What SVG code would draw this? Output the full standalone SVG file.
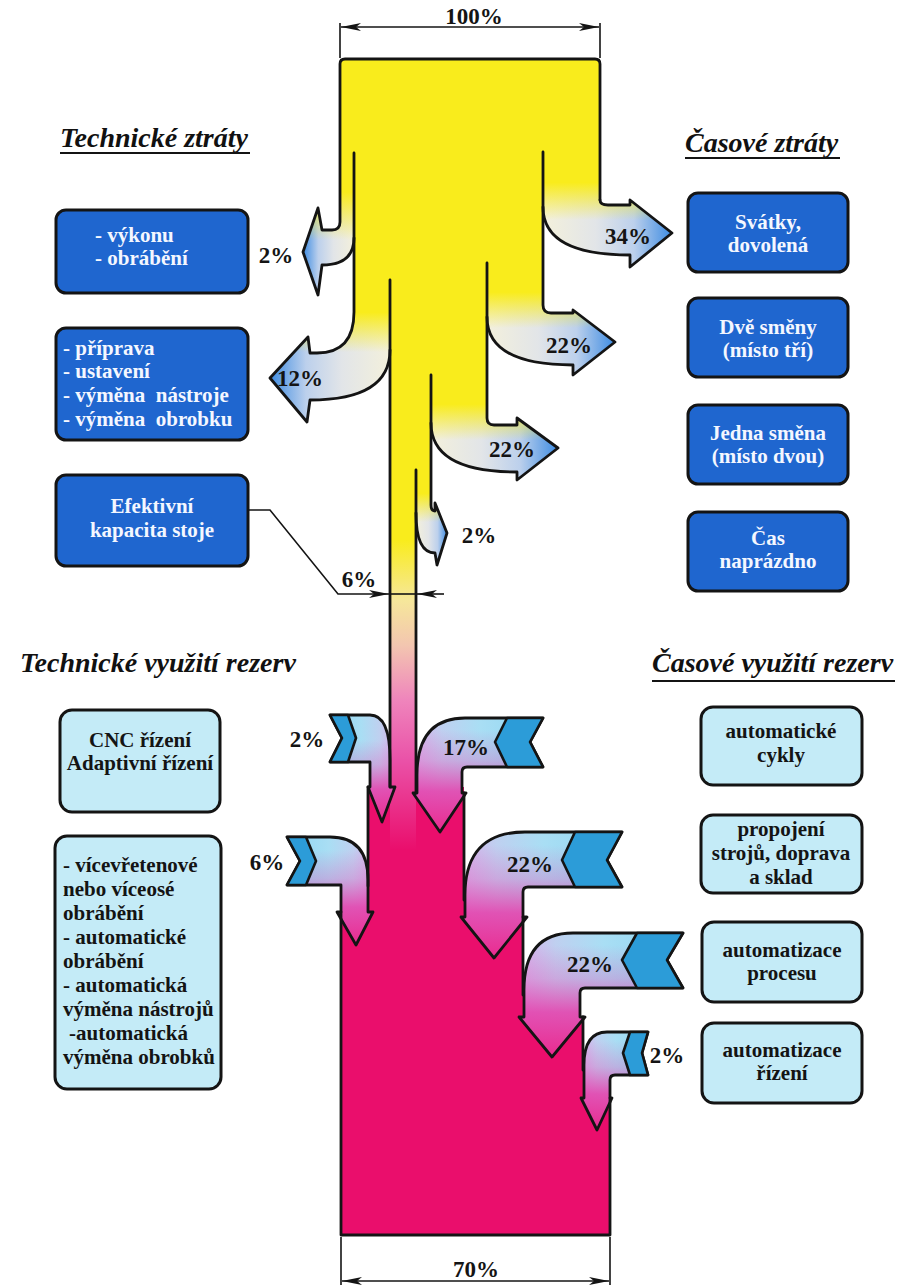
<svg xmlns="http://www.w3.org/2000/svg" width="910" height="1285" viewBox="0 0 910 1285">
<style>
  .ln{fill:none;stroke:#141414;stroke-width:2.8;stroke-linejoin:round;stroke-linecap:round}
  .thin{fill:none;stroke:#141414;stroke-width:1.6}
  .pct{font-family:"Liberation Serif","Times New Roman",serif;font-weight:bold;font-size:23px;fill:#141414;text-anchor:middle}
  .ttl{font-family:"Liberation Serif","Times New Roman",serif;font-weight:bold;font-style:italic;font-size:28px;fill:#111}
  .bx{font-family:"Liberation Serif","Times New Roman",serif;font-weight:bold;font-size:21px}
  .c{text-anchor:middle}
  .dk rect{fill:#1F66CF;stroke:#141414;stroke-width:3}
  .dk text{fill:#F4F7FF}
  .lt rect{fill:#C4EBF7;stroke:#141414;stroke-width:3}
  .lt text{fill:#141414}
  .band{fill:#2C9CD8;stroke:#141414;stroke-width:2.6;stroke-linejoin:round}
  .edge{fill:none;stroke:#141414;stroke-width:2.8;stroke-linejoin:round}
</style>
<defs>
  <marker id="ah" viewBox="0 0 20 8" refX="20" refY="4" markerWidth="20" markerHeight="8" markerUnits="userSpaceOnUse" orient="auto-start-reverse">
    <path d="M0,0 L20,4 L0,8 L5,4 Z" fill="#141414"/>
  </marker>

  <!-- main stream: yellow turning pink -->
  <linearGradient id="gTrunk" gradientUnits="userSpaceOnUse" x1="0" y1="59" x2="0" y2="850">
    <stop offset="0" stop-color="#F9EC1C"/>
    <stop offset="0.608" stop-color="#F9EC1C"/>
    <stop offset="0.684" stop-color="#F6E79A"/>
    <stop offset="0.741" stop-color="#F3C6B0"/>
    <stop offset="0.81" stop-color="#EF85BC"/>
    <stop offset="0.886" stop-color="#EA52A8"/>
    <stop offset="1" stop-color="#EA0E6C"/>
  </linearGradient>

  <!-- losses: cream to blue (horizontal) with yellow fading out (vertical) -->
  <linearGradient id="outStops">
    <stop offset="0" stop-color="#F3F0DC"/>
    <stop offset="0.4" stop-color="#E2E5E8"/>
    <stop offset="0.7" stop-color="#BCD0EC"/>
    <stop offset="1" stop-color="#3E8CE2"/>
  </linearGradient>
  <linearGradient id="yelStops">
    <stop offset="0" stop-color="#F9EC1C" stop-opacity="1"/>
    <stop offset="0.45" stop-color="#F9EC1C" stop-opacity="1"/>
    <stop offset="1" stop-color="#F9EC1C" stop-opacity="0"/>
  </linearGradient>
  <linearGradient id="gAh" href="#outStops" gradientUnits="userSpaceOnUse" x1="354" y1="0" x2="303" y2="0"/>
  <linearGradient id="gAv" href="#yelStops" gradientUnits="userSpaceOnUse" x1="0" y1="153" x2="0" y2="240"/>
  <linearGradient id="gBh" href="#outStops" gradientUnits="userSpaceOnUse" x1="390" y1="0" x2="270" y2="0"/>
  <linearGradient id="gBv" href="#yelStops" gradientUnits="userSpaceOnUse" x1="0" y1="280" x2="0" y2="352"/>
  <linearGradient id="gCh" href="#outStops" gradientUnits="userSpaceOnUse" x1="545" y1="0" x2="672" y2="0"/>
  <linearGradient id="gCv" href="#yelStops" gradientUnits="userSpaceOnUse" x1="0" y1="152" x2="0" y2="220"/>
  <linearGradient id="gDh" href="#outStops" gradientUnits="userSpaceOnUse" x1="487" y1="0" x2="615" y2="0"/>
  <linearGradient id="gDv" href="#yelStops" gradientUnits="userSpaceOnUse" x1="0" y1="263" x2="0" y2="328"/>
  <linearGradient id="gEh" href="#outStops" gradientUnits="userSpaceOnUse" x1="431" y1="0" x2="558" y2="0"/>
  <linearGradient id="gEv" href="#yelStops" gradientUnits="userSpaceOnUse" x1="0" y1="375" x2="0" y2="440"/>
  <linearGradient id="gFh" href="#outStops" gradientUnits="userSpaceOnUse" x1="416" y1="0" x2="447" y2="0"/>
  <linearGradient id="gFv" href="#yelStops" gradientUnits="userSpaceOnUse" x1="0" y1="470" x2="0" y2="522"/>

  <!-- gains: cyan to lavender (horizontal) with magenta rising (vertical) -->
  <linearGradient id="inStops">
    <stop offset="0" stop-color="#8FD6F2"/>
    <stop offset="0.5" stop-color="#A9DEF4"/>
    <stop offset="0.8" stop-color="#BFD0F0"/>
    <stop offset="1" stop-color="#D4B4EA"/>
  </linearGradient>
  <linearGradient id="pinkStops">
    <stop offset="0" stop-color="#E44BB4" stop-opacity="0"/>
    <stop offset="0.3" stop-color="#E44BB4" stop-opacity="0.3"/>
    <stop offset="0.6" stop-color="#E445AE" stop-opacity="0.9"/>
    <stop offset="1" stop-color="#EA2A8E" stop-opacity="1"/>
  </linearGradient>
  <linearGradient id="g1h" href="#inStops" gradientUnits="userSpaceOnUse" x1="330" y1="0" x2="392" y2="0"/>
  <linearGradient id="g1v" href="#pinkStops" gradientUnits="userSpaceOnUse" x1="0" y1="740" x2="0" y2="822"/>
  <linearGradient id="g2h" href="#inStops" gradientUnits="userSpaceOnUse" x1="543" y1="0" x2="417" y2="0"/>
  <linearGradient id="g2v" href="#pinkStops" gradientUnits="userSpaceOnUse" x1="0" y1="730" x2="0" y2="832"/>
  <linearGradient id="g3h" href="#inStops" gradientUnits="userSpaceOnUse" x1="287" y1="0" x2="370" y2="0"/>
  <linearGradient id="g3v" href="#pinkStops" gradientUnits="userSpaceOnUse" x1="0" y1="850" x2="0" y2="945"/>
  <linearGradient id="g4h" href="#inStops" gradientUnits="userSpaceOnUse" x1="622" y1="0" x2="465" y2="0"/>
  <linearGradient id="g4v" href="#pinkStops" gradientUnits="userSpaceOnUse" x1="0" y1="845" x2="0" y2="958"/>
  <linearGradient id="g5h" href="#inStops" gradientUnits="userSpaceOnUse" x1="683" y1="0" x2="524" y2="0"/>
  <linearGradient id="g5v" href="#pinkStops" gradientUnits="userSpaceOnUse" x1="0" y1="945" x2="0" y2="1057"/>
  <linearGradient id="g6h" href="#inStops" gradientUnits="userSpaceOnUse" x1="648" y1="0" x2="584" y2="0"/>
  <linearGradient id="g6v" href="#pinkStops" gradientUnits="userSpaceOnUse" x1="0" y1="1040" x2="0" y2="1130"/>

  <!-- loss branch outlines -->
  <path id="sA" d="M340,153 V222 Q340,230 332,230 H322 L318,208 L303,252 L318,295 L322,265 Q354,265 354,238 V153 Z"/>
  <path id="sB" d="M354,280 V312 Q354,353 317,353 H310 L308,337 L270,378 L307,422 L310,400 Q390,400 390,350 V280 Z"/>
  <path id="sC" d="M600,152 V200 Q600,205 608,205 H630 L630,200 L672,233 L630,267 L630,255 Q543,255 543,207 V152 Z"/>
  <path id="sD" d="M543,263 V305 Q543,313 551,313 H573 L573,310 L615,342 L573,375 L573,365 Q487,365 487,317 V263 Z"/>
  <path id="sE" d="M487,375 V418 Q487,425 494,425 H517 L517,418 L558,448 L517,480 L517,472 Q431,472 431,423 V375 Z"/>
  <path id="sF" d="M431,470 V505 Q431,511 435,511 L435,503 L447,533 L437,565 L435,553 Q416,553 416,513 V470 Z"/>

  <!-- gain arrow outlines -->
  <path id="s1" d="M330,715 H370 Q390,715 390,760 V787 L395,787 L382,822 L368,787 L370,787 V762 H330 L342,738 Z"/>
  <path id="s2" d="M543,718 H465 Q417,718 417,775 V793 L413,793 L440,832 L466,793 L462,793 V772 Q462,767 467,767 H543 L530,742 Z"/>
  <path id="s3" d="M287,837 H330 Q368,837 368,880 V912 L373,912 L356,945 L337,912 L341,912 V885 H287 L300,861 Z"/>
  <path id="s4" d="M622,832 H525 Q465,832 465,895 V917 L461,917 L494,958 L527,917 L523,917 V892 Q523,887 528,887 H622 L607,860 Z"/>
  <path id="s5" d="M683,933 H573 Q524,933 524,990 V1017 L519,1017 L552,1057 L585,1017 L580,1017 V993 Q580,988 585,988 H683 L667,960 Z"/>
  <path id="s6" d="M648,1032 H607 Q584,1032 584,1065 V1098 L581,1098 L597,1130 L612,1098 L610,1098 V1080 Q610,1075 615,1075 H648 L642,1053 Z"/>
</defs>

<rect width="910" height="1285" fill="#FFFFFF"/>

<!-- headings -->
<g id="headings">
  <text class="ttl" x="60" y="147">Technické ztráty</text>
  <line x1="60" y1="153" x2="250" y2="153" stroke="#141414" stroke-width="2"/>
  <text class="ttl" x="685" y="152">Časové ztráty</text>
  <line x1="685" y1="158" x2="840" y2="158" stroke="#141414" stroke-width="2"/>
  <text class="ttl" x="20" y="672">Technické využití rezerv</text>
  <text class="ttl" x="652" y="672">Časové využití rezerv</text>
  <line x1="652" y1="681" x2="895" y2="681" stroke="#141414" stroke-width="2"/>
</g>

<!-- capacity flow -->
<g id="flow">
  <!-- resulting capacity block -->
  <path id="block" d="M368,787 H464 V917 H523 V1017 H583 V1098 H610 V1235 H341 V912 H368 Z" fill="#EA0E6C"/>
  <!-- main stream -->
  <path id="trunk" d="M340,64 Q340,59 345,59 H595 Q600,59 600,64 V200 H543 V305 H487 V418 H431 V505 H416 V850 H390 V350 H354 V222 H340 Z" fill="url(#gTrunk)"/>

  <g id="loss-2a"><use href="#sA" fill="url(#gAh)"/><use href="#sA" fill="url(#gAv)"/></g>
  <g id="loss-12"><use href="#sB" fill="url(#gBh)"/><use href="#sB" fill="url(#gBv)"/></g>
  <g id="loss-34"><use href="#sC" fill="url(#gCh)"/><use href="#sC" fill="url(#gCv)"/></g>
  <g id="loss-22a"><use href="#sD" fill="url(#gDh)"/><use href="#sD" fill="url(#gDv)"/></g>
  <g id="loss-22b"><use href="#sE" fill="url(#gEh)"/><use href="#sE" fill="url(#gEv)"/></g>
  <g id="loss-2b"><use href="#sF" fill="url(#gFh)"/><use href="#sF" fill="url(#gFv)"/></g>

  <g id="gain-2a"><use href="#s1" fill="url(#g1h)"/><use href="#s1" fill="url(#g1v)"/><use href="#s1" class="edge"/>
    <path class="band" d="M330,715 L348,715 L356,738 L348,762 L330,762 L342,738 Z"/></g>
  <g id="gain-17"><use href="#s2" fill="url(#g2h)"/><use href="#s2" fill="url(#g2v)"/><use href="#s2" class="edge"/>
    <path class="band" d="M543,718 L507,718 L495,742 L507,767 L543,767 L530,742 Z"/></g>
  <g id="gain-6"><use href="#s3" fill="url(#g3h)"/><use href="#s3" fill="url(#g3v)"/><use href="#s3" class="edge"/>
    <path class="band" d="M287,837 L306,837 L316,861 L306,885 L287,885 L300,861 Z"/></g>
  <g id="gain-22a"><use href="#s4" fill="url(#g4h)"/><use href="#s4" fill="url(#g4v)"/><use href="#s4" class="edge"/>
    <path class="band" d="M622,832 L575,832 L562,860 L575,887 L622,887 L607,860 Z"/></g>
  <g id="gain-22b"><use href="#s5" fill="url(#g5h)"/><use href="#s5" fill="url(#g5v)"/><use href="#s5" class="edge"/>
    <path class="band" d="M683,933 L637,933 L622,960 L637,988 L683,988 L667,960 Z"/></g>
  <g id="gain-2b"><use href="#s6" fill="url(#g6h)"/><use href="#s6" fill="url(#g6v)"/><use href="#s6" class="edge"/>
    <path class="band" d="M648,1032 L630,1032 L623,1053 L630,1075 L648,1075 L642,1053 Z"/></g>

  <!-- outlines -->
  <path class="ln" d="M368,787 V886 M464,793 V900 M523,917 V995 M583,1017 V1070 M610,1098 V1235 H341 V912"/>
  <path class="ln" d="M600,200 V64 Q600,59 595,59 H345 Q340,59 340,64 V222 Q340,230 332,230 H322 L318,208 L303,252 L318,295 L322,265 Q354,265 354,238"/>
  <path class="ln" d="M354,153 V312 Q354,353 317,353 H310 L308,337 L270,378 L307,422 L310,400 Q390,400 390,350"/>
  <path class="ln" d="M390,280 V787"/>
  <path class="ln" d="M600,200 Q600,205 608,205 H630 L630,200 L672,233 L630,267 L630,255 Q543,255 543,207"/>
  <path class="ln" d="M543,152 V305 Q543,313 551,313 H573 L573,310 L615,342 L573,375 L573,365 Q487,365 487,317"/>
  <path class="ln" d="M487,263 V418 Q487,425 494,425 H517 L517,418 L558,448 L517,480 L517,472 Q431,472 431,423"/>
  <path class="ln" d="M431,375 V505 Q431,511 435,511 L435,503 L447,533 L437,565 L435,553 Q416,553 416,513"/>
  <path class="ln" d="M416,470 V793"/>
</g>

<!-- dimension lines and leader -->
<g id="connectors">
  <path class="thin" d="M340,23 V58 M600,23 V58"/>
  <path class="thin" d="M341,27 H599" marker-start="url(#ah)" marker-end="url(#ah)"/>
  <path class="thin" d="M341,1237 V1285 M610,1237 V1285"/>
  <path class="thin" d="M342,1281 H609" marker-start="url(#ah)" marker-end="url(#ah)"/>
  <path class="thin" d="M249,510 H270 L338,594 H389" stroke-width="2" marker-end="url(#ah)"/>
  <path class="thin" d="M390,594 H416"/>
  <path class="thin" d="M444,594 H417" marker-end="url(#ah)"/>
</g>

<!-- percentages -->
<g id="values">
  <text class="pct" x="474" y="24">100%</text>
  <text class="pct" x="276" y="263">2%</text>
  <text class="pct" x="300" y="386">12%</text>
  <text class="pct" x="628" y="244">34%</text>
  <text class="pct" x="569" y="353">22%</text>
  <text class="pct" x="512" y="457">22%</text>
  <text class="pct" x="479" y="543">2%</text>
  <text class="pct" x="359" y="587">6%</text>
  <text class="pct" x="307" y="747">2%</text>
  <text class="pct" x="466" y="755">17%</text>
  <text class="pct" x="267" y="870">6%</text>
  <text class="pct" x="530" y="872">22%</text>
  <text class="pct" x="590" y="972">22%</text>
  <text class="pct" x="667" y="1063">2%</text>
  <text class="pct" x="476" y="1277">70%</text>
</g>

<!-- technical losses -->
<g id="n-vykon" class="dk">
  <rect x="56" y="210" width="192" height="83" rx="10"/>
  <text class="bx" x="95" y="242">- výkonu</text>
  <text class="bx" x="95" y="265">- obrábění</text>
</g>
<g id="n-priprava" class="dk">
  <rect x="56" y="328" width="192" height="112" rx="10"/>
  <text class="bx" x="63" y="355" xml:space="preserve">- příprava</text>
  <text class="bx" x="63" y="378" xml:space="preserve">- ustavení</text>
  <text class="bx" x="63" y="402" xml:space="preserve">- výměna  nástroje</text>
  <text class="bx" x="63" y="426" xml:space="preserve">- výměna  obrobku</text>
</g>
<g id="n-efektivni" class="dk">
  <rect x="56" y="475" width="192" height="91" rx="10"/>
  <text class="bx c" x="152" y="513">Efektivní</text>
  <text class="bx c" x="152" y="537">kapacita stoje</text>
</g>

<!-- time losses -->
<g id="n-svatky" class="dk">
  <rect x="688" y="193" width="160" height="79" rx="10"/>
  <text class="bx c" x="768" y="229">Svátky,</text>
  <text class="bx c" x="768" y="252">dovolená</text>
</g>
<g id="n-dve" class="dk">
  <rect x="688" y="298" width="160" height="79" rx="10"/>
  <text class="bx c" x="768" y="334">Dvě směny</text>
  <text class="bx c" x="768" y="357">(místo tří)</text>
</g>
<g id="n-jedna" class="dk">
  <rect x="688" y="405" width="160" height="79" rx="10"/>
  <text class="bx c" x="768" y="440">Jedna směna</text>
  <text class="bx c" x="768" y="463">(místo dvou)</text>
</g>
<g id="n-cas" class="dk">
  <rect x="688" y="512" width="160" height="79" rx="10"/>
  <text class="bx c" x="768" y="545">Čas</text>
  <text class="bx c" x="768" y="568">naprázdno</text>
</g>

<!-- technical reserves -->
<g id="n-cnc" class="lt">
  <rect x="60" y="710" width="160" height="102" rx="12"/>
  <text class="bx c" x="140" y="747">CNC řízení</text>
  <text class="bx c" x="140" y="770">Adaptivní řízení</text>
</g>
<g id="n-vice" class="lt">
  <rect x="55" y="836" width="166" height="253" rx="12"/>
  <text class="bx" x="63" y="872">- vícevřetenové</text>
  <text class="bx" x="63" y="896">nebo víceosé</text>
  <text class="bx" x="63" y="920">obrábění</text>
  <text class="bx" x="63" y="944">- automatické</text>
  <text class="bx" x="63" y="968">obrábění</text>
  <text class="bx" x="63" y="992">- automatická</text>
  <text class="bx" x="63" y="1016">výměna nástrojů</text>
  <text class="bx" x="69" y="1040">-automatická</text>
  <text class="bx" x="63" y="1064">výměna obrobků</text>
</g>

<!-- time reserves -->
<g id="n-cykly" class="lt">
  <rect x="701" y="707" width="161" height="78" rx="12"/>
  <text class="bx c" x="781" y="738">automatické</text>
  <text class="bx c" x="781" y="762">cykly</text>
</g>
<g id="n-propojeni" class="lt">
  <rect x="701" y="815" width="161" height="78" rx="12"/>
  <text class="bx c" x="781" y="836">propojení</text>
  <text class="bx c" x="781" y="860">strojů, doprava</text>
  <text class="bx c" x="781" y="884">a sklad</text>
</g>
<g id="n-proces" class="lt">
  <rect x="702" y="922" width="160" height="80" rx="12"/>
  <text class="bx c" x="782" y="957">automatizace</text>
  <text class="bx c" x="782" y="980">procesu</text>
</g>
<g id="n-rizeni" class="lt">
  <rect x="702" y="1023" width="160" height="80" rx="12"/>
  <text class="bx c" x="782" y="1057">automatizace</text>
  <text class="bx c" x="782" y="1080">řízení</text>
</g>
</svg>
